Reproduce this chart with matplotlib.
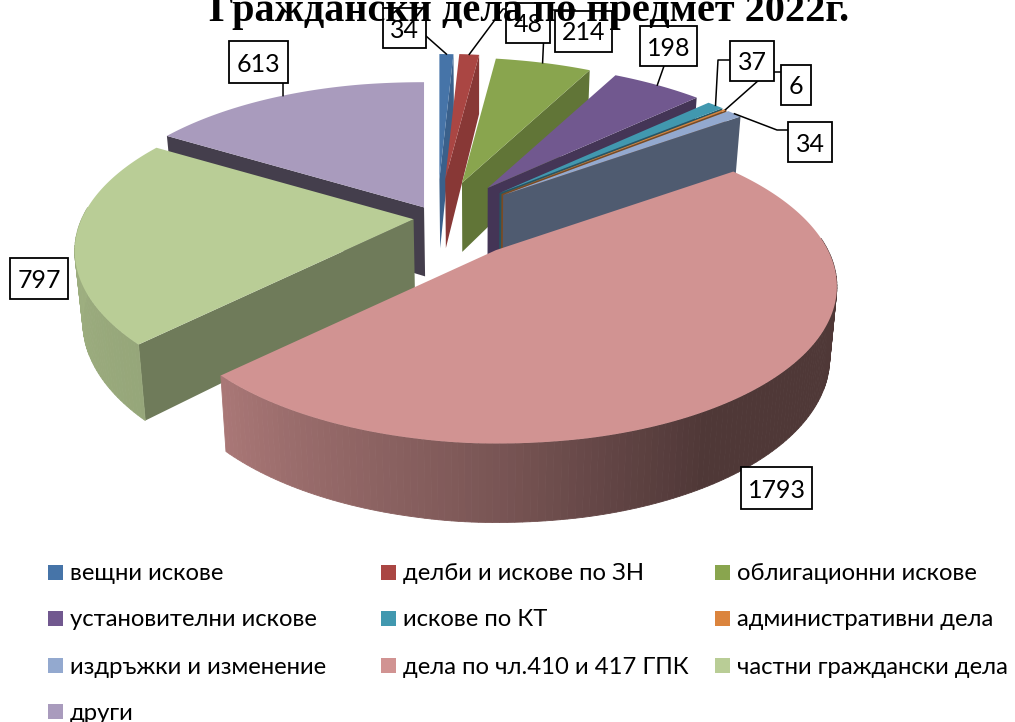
import numpy as np
from matplotlib import pyplot as plt
from matplotlib.patches import Polygon, Rectangle

# 3D pie with perspective, drawn from the category values

categories = ["вещни искове", "делби и искове по ЗН", "облигационни искове",
              "установителни искове", "искове по КТ", "административни дела",
              "издръжки и изменение", "дела по чл.410 и 417 ГПК", "частни граждански дела",
              "други"]
values = [34, 48, 214, 198, 37, 6, 34, 1793, 797, 613]
colors = ["#4674A8", "#AA4643", "#89A54E", "#71588F", "#4198AF",
          "#DB843D", "#93A9CF", "#D19392", "#B9CD96", "#A99BBD"]
explode = [0.255, 0.257, 0.243, 0.25, 0.25, 0.25, 0.25, 0.276, 0.071, 0.08]
title = "Граждански дела по предмет 2022г."

# order of drawing, back slices first
draw_order = [0, 1, 2, 3, 4, 5, 6, 9, 8, 7]

# label box centres and sizes, leader bends
label_boxes = [(404.5, 28, 43, 40), (528, 23, 44, 40), (583.5, 31, 57, 41), (668.5, 46, 57, 40),
               (752, 61, 44, 40), (796, 85, 30, 40), (810, 142, 44, 40), (776.5, 488, 71, 42),
               (39, 278.5, 58, 41), (258.5, 62, 59, 42)]
leaders = [[(426, 36)], [(503, 9), (506, 9)], [(545, 10), (575, 10)], [(664, 66)],
           [(718, 60), (730, 60)], [(768, 72), (781, 72)], [(777, 130), (788, 130)],
           [], [], [(283, 83)]]

cx, cy = 437, 218
A, B, P = 332, 152, 0.214
SKEW = 5  # the pie leans a little: back of the rim to the left, front to the right
label_font = ["Lato", "DejaVu Sans"]


def project(ax0, ay0, theta, r=1.0):
    u = r * np.sin(theta)
    v = r * np.cos(theta)
    w = 1 + P * v
    lean = -SKEW * v * np.minimum(1, np.abs(u) * 5)
    return ax0 + A * u / w + lean, ay0 - B * v / w


def drop(x, y, theta, r=1.0):
    # bottom edge of the pie: a bit narrower and deeper at the front
    v = r * np.cos(theta)
    return cx + 40 + (x - cx - 40) * 0.98, y + 69 - 10 * v


def shade(color, f):
    rgb = np.array(plt.matplotlib.colors.to_rgb(color))
    return tuple(rgb * f)


def rim_shade(deg):
    return np.interp(deg, [90, 150, 165, 180, 225, 270], [0.38, 0.38, 0.47, 0.58, 0.81, 0.86])


def end_face_shade(deg):
    return np.interp(deg, [0, 8, 28, 47, 54], [0.85, 0.8, 0.71, 0.6, 0.54])


def start_face_shade(deg):
    return np.interp(deg, [225, 301], [0.6, 0.4])


fig = plt.figure(figsize=(10.15, 7.22), dpi=100)
ax = fig.add_axes([0, 0, 1, 1])
ax.set_xlim(0, 1015)
ax.set_ylim(722, 0)
ax.axis("off")

ends = np.cumsum(values) / np.sum(values) * 2 * np.pi
starts = np.concatenate([[0], ends[:-1]])
mids = (starts + ends) / 2
apex_x = cx + np.array(explode) * A * np.sin(mids)
apex_y = cy - np.array(explode) * B * np.cos(mids)

for i in draw_order:
    t1, t2 = starts[i], ends[i]
    x0, y0 = apex_x[i], apex_y[i]
    c = colors[i]
    bx0, by0 = drop(x0, y0, 0, 0)

    # cut faces
    if np.sin(t1) < -1e-6:
        x1, y1 = project(x0, y0, t1)
        bx1, by1 = drop(x1, y1, t1)
        col = shade(c, start_face_shade(np.degrees(t1)))
        ax.add_patch(Polygon([(x0, y0), (x1, y1), (bx1, by1), (bx0, by0)], fc=col, ec="none"))
    if np.sin(t2) > 1e-6:
        x2, y2 = project(x0, y0, t2)
        bx2, by2 = drop(x2, y2, t2)
        col = shade(c, end_face_shade(np.degrees(t2)))
        ax.add_patch(Polygon([(x0, y0), (x2, y2), (bx2, by2), (bx0, by0)], fc=col, ec="none"))

    # outer wall, front part only
    n = max(int(np.degrees(t2 - t1)), 2)
    ts = np.linspace(t1, t2, n + 1)
    for a, b in zip(ts[:-1], ts[1:]):
        m = np.degrees((a + b) / 2)
        if m < 85 or m > 275:
            continue
        xa, ya = project(x0, y0, a)
        xb, yb = project(x0, y0, b)
        col = shade(c, rim_shade(m))
        ax.add_patch(Polygon([(xa, ya), (xb, yb), drop(xb, yb, b), drop(xa, ya, a)], fc=col, ec=col, lw=0.6))

    # top face
    ts = np.linspace(t1, t2, n * 2 + 1)
    rx, ry = project(x0, y0, ts)
    pts = [(x0, y0)] + list(zip(rx, ry))
    ax.add_patch(Polygon(pts, fc=c, ec="none"))

# labels with leader lines
for i in range(len(values)):
    bx, by, bw, bh = label_boxes[i]
    if leaders[i]:
        sx, sy = project(apex_x[i], apex_y[i], mids[i])
        xs = [sx] + [p[0] for p in leaders[i]]
        ys = [sy] + [p[1] for p in leaders[i]]
        ax.plot(xs, ys, color="black", lw=1.1, zorder=5)
    ax.add_patch(Rectangle((bx - bw / 2, by - bh / 2), bw, bh, fc="white", ec="black", lw=1.3, zorder=6))
    ax.text(bx, by, str(values[i]), ha="center", va="center_baseline", fontsize=18, family=label_font, zorder=7)

ax.text(529, 21, title, ha="center", va="baseline", fontsize=29, fontweight="bold",
        family="Liberation Serif", zorder=8)

# legend, three columns
col_x = [48, 381, 715]
row_y = [572, 618, 665, 711]
for i, name in enumerate(categories):
    lx = col_x[i % 3]
    ly = row_y[i // 3]
    ax.add_patch(Rectangle((lx, ly - 7.5), 15, 15, fc=colors[i], ec="none"))
    ax.text(lx + 22, ly, name, ha="left", va="center_baseline", fontsize=17.2, family=label_font)

plt.savefig("out.png", dpi=100)
